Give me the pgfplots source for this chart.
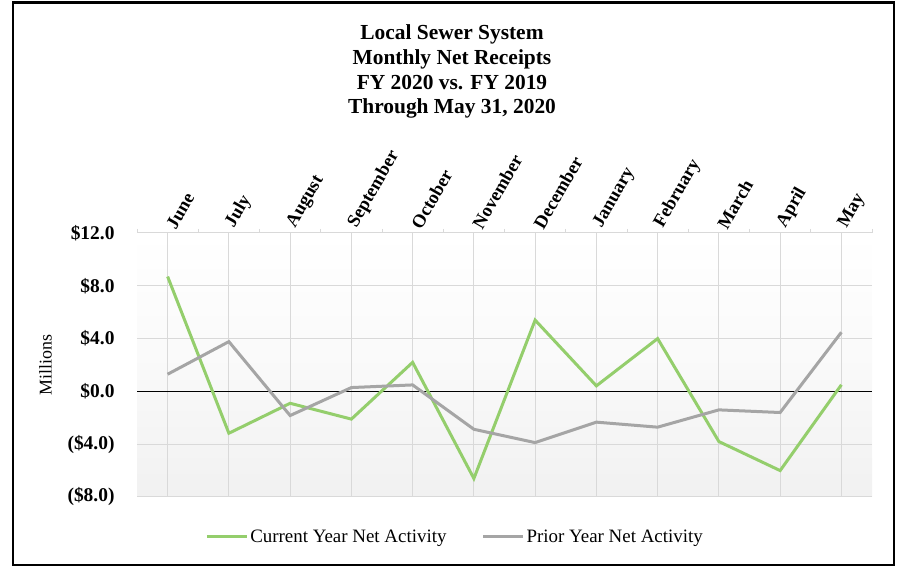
\documentclass[border=0pt]{standalone}
\usepackage{fontspec}
\setmainfont{Liberation Serif}
\usepackage{pgfplots}
\pgfplotsset{compat=1.18}
\definecolor{curgreen}{HTML}{94CE6C}
\definecolor{prigray}{HTML}{A5A5A5}
\definecolor{gridgray}{HTML}{D9D9D9}
\definecolor{bggray}{HTML}{F1F1F1}
\begin{document}
\begin{tikzpicture}[x=1bp,y=1bp]
\useasboundingbox (0,0) rectangle (899,567);
\draw[black, line width=2.2bp] (13,2) rectangle (894,564.5);
\node[align=center, font=\bfseries\fontsize{21.5}{25}\selectfont] at (452,495.5)
  {Local Sewer System\\Monthly Net Receipts\\FY 2020 vs. FY 2019\\Through May 31, 2020};
\begin{axis}[
  at={(137bp,70bp)}, anchor=south west,
  width=735bp, height=264bp, scale only axis,
  xmin=-0.5, xmax=11.5, ymin=-8, ymax=12,
  xtick={0,...,11},
  xticklabels={June,July,August,September,October,November,December,January,February,March,April,May},
  xticklabel pos=upper,
  xtick pos=upper,
  minor xtick={-0.5,0.5,...,11.5},
  tick align=outside,
  major tick length=0pt,
  minor tick length=4bp,
  minor tick style={gridgray, line width=1bp},
  xticklabel style={xshift=9bp, yshift=1bp, rotate=60, anchor=south west, inner sep=1bp, font=\bfseries\fontsize{18.5}{20}\selectfont},
  ytick={-8,-4,0,4,8,12},
  yticklabels={(\$8.0),(\$4.0),\$0.0,\$4.0,\$8.0,\$12.0},
  ytick pos=left,
  yticklabel style={anchor=east, font=\bfseries\fontsize{19.5}{22}\selectfont, xshift=-19bp},
  /pgf/number format/assume math mode=true,
  grid=major,
  major grid style={gridgray, line width=1bp},
  extra y ticks={0},
  extra y tick labels={},
  extra y tick style={grid=major, major grid style={black, line width=1.3bp}},
  axis line style={draw=none},
  axis background/.style={top color=white, bottom color=bggray, middle color=white!60!bggray},
  ylabel={Millions},
  every axis y label/.style={at={(axis description cs:-0.1245,0.5)}, rotate=90, anchor=center, font=\fontsize{18}{20}\selectfont},
  legend style={at={(axis description cs:0.4327,-0.1515)}, anchor=center, draw=none, fill=none,
    font=\fontsize{19}{20}\selectfont, legend columns=2,
    /tikz/every even column/.append style={column sep=33bp}},
  legend image code/.code={\draw[#1] (0bp,0bp) -- (40bp,0bp);},
]
\addplot[curgreen, line width=3bp, mark=none] coordinates {
  (0,8.7) (1,-3.17) (2,-0.9) (3,-2.1) (4,2.2) (5,-6.6) (6,5.4) (7,0.42) (8,4.0) (9,-3.8) (10,-6.0) (11,0.5)};
\addlegendentry{Current Year Net Activity}
\addplot[prigray, line width=3bp, mark=none] coordinates {
  (0,1.3) (1,3.77) (2,-1.83) (3,0.29) (4,0.49) (5,-2.87) (6,-3.88) (7,-2.33) (8,-2.71) (9,-1.40) (10,-1.6) (11,4.48)};
\addlegendentry{Prior Year Net Activity}
\end{axis}
\end{tikzpicture}
\end{document}
